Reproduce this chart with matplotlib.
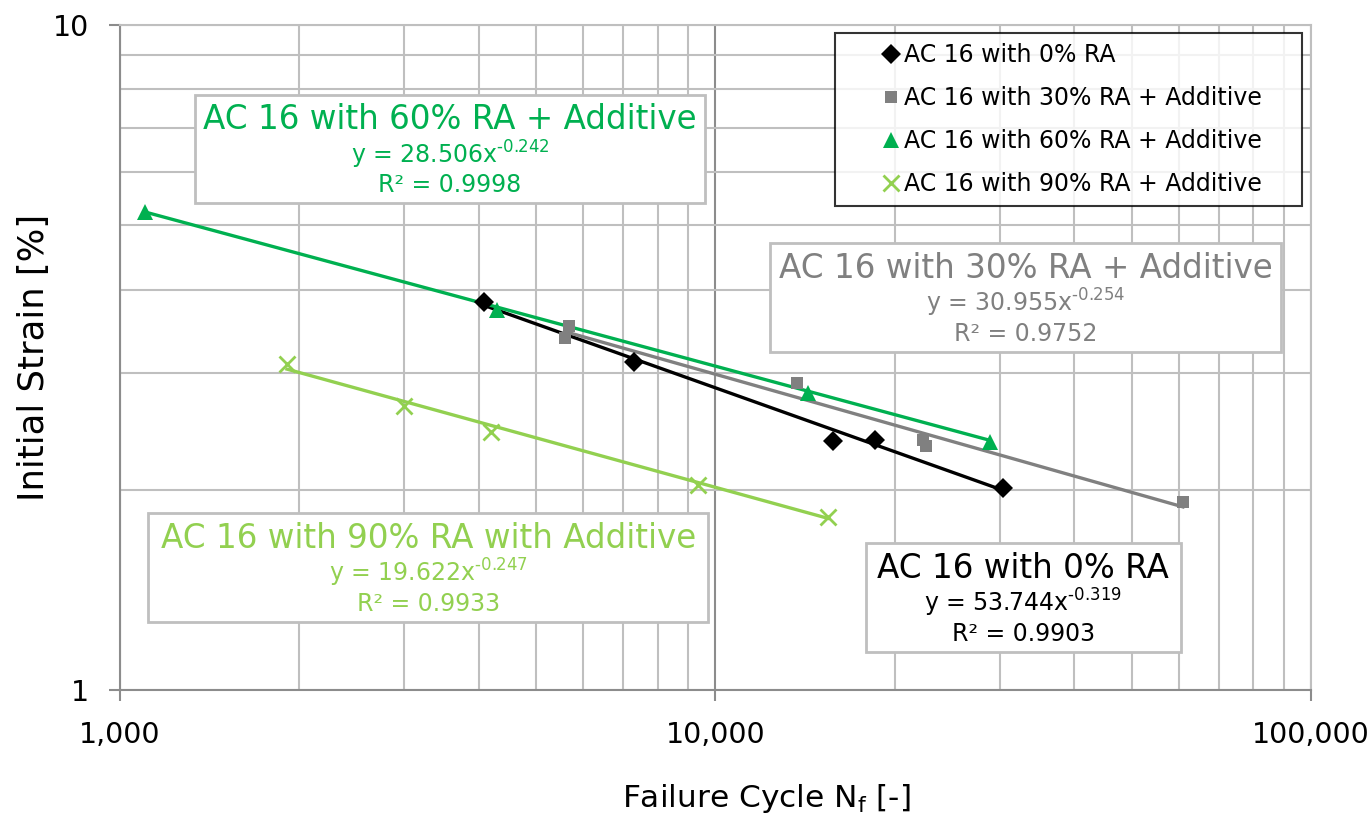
import matplotlib
matplotlib.use('Agg')
import matplotlib.pyplot as plt
from matplotlib.patches import Rectangle
from matplotlib.ticker import FuncFormatter, LogLocator, NullFormatter
import numpy as np

plt.rcParams['font.family'] = ['DejaVu Sans']
plt.rcParams['mathtext.fontset'] = 'dejavusans'
plt.rcParams['mathtext.default'] = 'regular'

# Ermüdungsversuche: Lastwechsel bis Versagen und Anfangsdehnung
nf_ra0 = [4085, 7300, 15740, 18530, 30400]
eps_ra0 = [3.83, 3.11, 2.37, 2.38, 2.01]

nf_ra30 = [5590, 5680, 13700, 22300, 22600, 60960]
eps_ra30 = [3.38, 3.53, 2.89, 2.38, 2.33, 1.92]

nf_ra60 = [1101, 4297, 14300, 28900]
eps_ra60 = [5.23, 3.73, 2.80, 2.36]

nf_ra90 = [1907, 3000, 4200, 9346, 15450]
eps_ra90 = [3.09, 2.67, 2.44, 2.03, 1.82]

# Potenzfunktionen y = a * x^b
fit_a = [53.744, 30.955, 28.506, 19.622]
fit_b = [-0.319, -0.254, -0.242, -0.247]
fit_r2 = ['0.9903', '0.9752', '0.9998', '0.9933']

labels = ['AC 16 with 0% RA', 'AC 16 with 30% RA + Additive',
          'AC 16 with 60% RA + Additive', 'AC 16 with 90% RA + Additive']
box_titles = ['AC 16 with 0% RA', 'AC 16 with 30% RA + Additive',
              'AC 16 with 60% RA + Additive', 'AC 16 with 90% RA with Additive']
colors = ['#000000', '#808080', '#00B050', '#92D050']
markers = ['D', 's', '^', 'x']
msizes = [10, 8.5, 11, 12]

# Textboxen (Achsenkoordinaten: links, unten, rechts, oben)
boxes = [(0.626, 0.057, 0.891, 0.221),
         (0.546, 0.508, 0.975, 0.672),
         (0.063, 0.732, 0.491, 0.895),
         (0.0235, 0.102, 0.494, 0.266)]

fig = plt.figure(figsize=(13.7, 8.13), dpi=100)
ax = fig.add_axes([0.0876, 0.1513, 0.8693, 0.8180])

data = [(nf_ra0, eps_ra0), (nf_ra30, eps_ra30), (nf_ra60, eps_ra60), (nf_ra90, eps_ra90)]

for i, (x, y) in enumerate(data):
    xs = np.linspace(min(x), max(x), 200)
    ax.plot(xs, fit_a[i] * xs ** fit_b[i], color=colors[i], lw=2.4, zorder=3)
for i, (x, y) in enumerate(data):
    mew = 2 if markers[i] == 'x' else 0
    # Leerzeichen am Ende fuer den rechten Rand der Legende
    ax.plot(x, y, linestyle='none', marker=markers[i], ms=msizes[i],
            color=colors[i], mew=mew, label=labels[i] + '    ', zorder=4)

ax.set_xscale('log')
ax.set_yscale('log')
ax.set_xlim(1000, 100000)
ax.set_ylim(1, 10)

ax.xaxis.set_major_formatter(FuncFormatter(lambda v, p: f'{v:,.0f}'))
ax.yaxis.set_major_formatter(FuncFormatter(lambda v, p: f'{v:g}'))
ax.xaxis.set_minor_formatter(NullFormatter())
ax.yaxis.set_minor_formatter(NullFormatter())
ax.xaxis.set_minor_locator(LogLocator(base=10, subs=np.arange(2, 10)))
ax.yaxis.set_minor_locator(LogLocator(base=10, subs=np.arange(2, 10)))

ax.grid(which='minor', color='#BFBFBF', lw=1.5)
ax.grid(which='major', axis='y', color='#BFBFBF', lw=1.5)
ax.grid(which='major', axis='x', color='#8C8C8C', lw=1.5)
ax.set_axisbelow(True)

for s in ['left', 'bottom']:
    ax.spines[s].set_color('#8C8C8C')
    ax.spines[s].set_linewidth(1.5)
for s in ['top', 'right']:
    ax.spines[s].set_color('#BFBFBF')
    ax.spines[s].set_linewidth(1.5)

ax.tick_params(which='major', length=8, width=1.5, color='#8C8C8C',
               labelsize=20.5, pad=14)
ax.tick_params(which='minor', length=0)

ax.set_xlabel('Failure Cycle N$_{f}$ [-]', fontsize=22.5)
ax.set_ylabel('Initial Strain [%]', fontsize=25.5)
ax.xaxis.set_label_coords(0.543, -0.138)
ax.yaxis.set_label_coords(-0.058, 0.5)

# Regressionsboxen
for i, (x0, y0, x1, y1) in enumerate(boxes):
    ax.add_patch(Rectangle((x0, y0), x1 - x0, y1 - y0, transform=ax.transAxes,
                           facecolor='white', edgecolor='#BFBFBF', lw=2, zorder=5))
    xc = (x0 + x1) / 2
    h = y1 - y0
    ax.text(xc, y1 - 0.23 * h, box_titles[i], transform=ax.transAxes,
            ha='center', va='center', fontsize=23.5, color=colors[i], zorder=6)
    expo = f'{fit_b[i]:.3f}'.replace('-', '\u2010')
    ax.text(xc, y1 - 0.55 * h, f'y = {fit_a[i]:.3f}x$^{{{expo}}}$',
            transform=ax.transAxes, ha='center', va='center', fontsize=17,
            color=colors[i], zorder=6)
    ax.text(xc, y1 - 0.83 * h, f'R² = {fit_r2[i]}', transform=ax.transAxes,
            ha='center', va='center', fontsize=17, color=colors[i], zorder=6)

leg = ax.legend(loc='upper right', bbox_to_anchor=(0.9924, 0.988), fontsize=17,
                frameon=True, fancybox=False, edgecolor='black', handlelength=3.9,
                handletextpad=-1.4, labelspacing=0.81, borderpad=0.42,
                borderaxespad=0)
leg.get_frame().set_linewidth(1.5)
leg.set_zorder(7)

fig.savefig('out.png', dpi=100)
